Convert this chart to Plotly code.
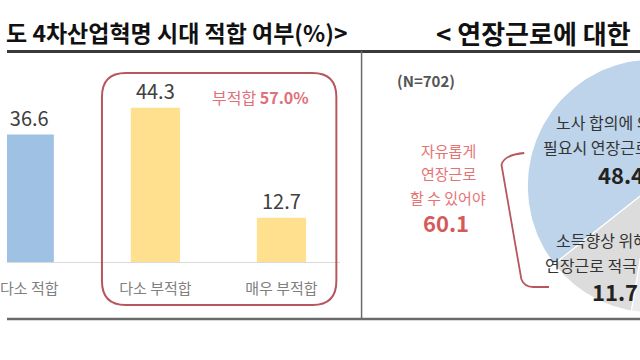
import numpy as np
import plotly.graph_objects as go

# ---------------- data ----------------
bar_categories = ["매우 적합", "다소 적합", "다소 부적합", "매우 부적합"]
bar_values = [6.4, 36.6, 44.3, 12.7]
bar_colors = ["#9fc2e4", "#9fc2e4", "#fee08f", "#fee08f"]
unfit_total_label = "부적합 <b>57.0%</b>"

pie_labels = ["노사 합의에 의해 필요시 연장근로", "소득향상 위해 연장근로 적극", "기타"]
pie_values = [48.4, 11.7, 39.9]
pie_colors = ["#bdd4ea", "#dcdcdc", "#ececec"]
free_overtime_total = 60.1
sample_size = "(N=702)"

left_title = "도 4차산업혁명 시대 적합 여부(%)>"
right_title = "< 연장근로에 대한"

FONT = "Noto Sans CJK KR"
W, H = 640, 360

fig = go.Figure()

# ---------------- bar chart (left) ----------------
fig.add_trace(go.Bar(
    x=bar_categories, y=bar_values,
    marker=dict(color=bar_colors, line=dict(width=0)),
    width=0.39,
    text=[f"{v:.1f}" for v in bar_values],
    textposition="outside",
    textfont=dict(family=FONT, size=20, color="#404040"),
    cliponaxis=False,
    xaxis="x", yaxis="y",
    hoverinfo="skip",
))

# ---------------- pie (right), drawn on pixel overlay axes ----------------
CX, CY, R = 653, 186, 127
ROT = 43.8
total = sum(pie_values)
start = ROT
for lab, val, col in zip(pie_labels, pie_values, pie_colors):
    span = val / total * 360.0
    th = np.radians(np.linspace(start, start + span, 120))
    xs = np.concatenate([[CX], CX + R * np.cos(th), [CX]])
    ys = np.concatenate([[CY], CY - R * np.sin(th), [CY]])
    fig.add_trace(go.Scatter(
        x=xs, y=ys, mode="lines", fill="toself",
        fillcolor=col, line=dict(color="white", width=1.2),
        name=lab, xaxis="x2", yaxis="y2", hoverinfo="skip",
    ))
    start += span

# ---------------- layout ----------------
ann = []
def A(text, x, y, size, color, xanchor="center", family=FONT):
    ann.append(dict(text=text, x=x, y=y, xref="x2", yref="y2", showarrow=False,
                    xanchor=xanchor, yanchor="middle",
                    font=dict(family=family, size=size, color=color)))

A("<b>" + left_title + "</b>", 346, 32, 23, "#111111", xanchor="right")
A("<b>" + right_title + "</b>", 432, 32, 26, "#111111", xanchor="left")
A(unfit_total_label, 256, 97, 16, "#e0707a")
A("<b>" + sample_size + "</b>", 424, 80, 15, "#555555")
A("자유롭게", 446, 150, 15, "#e57373")
A("연장근로", 446, 173, 15, "#e57373")
A("할 수 있어야", 446, 197, 15, "#e57373")
A(f"<b>{free_overtime_total:.1f}</b>", 444, 222, 22, "#d65a5a")
A("노사 합의에 의해", 553, 122, 16, "#333333", xanchor="left")
A("필요시 연장근로 허용", 540, 147, 16, "#333333", xanchor="left")
A(f"<b>{pie_values[0]:.1f}</b>", 596, 174, 22, "#222222", xanchor="left")
A("소득향상 위해", 553, 240, 16, "#333333", xanchor="left")
A("연장근로 적극 허용", 542, 265, 16, "#333333", xanchor="left")
A(f"<b>{pie_values[1]:.1f}</b>", 589, 291, 22, "#222222", xanchor="left")

def px(x):
    return x / W

def py(y):
    return 1 - y / H

shapes = [
    # title underline
    dict(type="line", xref="paper", yref="paper", x0=0, x1=1, y0=py(51.5), y1=py(51.5),
         line=dict(color="#3a3a3a", width=3), layer="above"),
    # vertical separator
    dict(type="line", xref="paper", yref="paper", x0=px(358.5), x1=px(358.5),
         y0=py(51), y1=py(319), line=dict(color="#6a6a6a", width=1.5)),
    # bottom rule
    dict(type="line", xref="paper", yref="paper", x0=0, x1=1, y0=py(319), y1=py(319),
         line=dict(color="#6a6a6a", width=2.5)),
    # rounded box around unfit bars
    dict(type="path", xref="x2", yref="y2",
         path="M 120 73 L 309 73 Q 333 73 333 97 L 333 281 Q 333 305 309 305 "
              "L 120 305 Q 96 305 96 281 L 96 97 Q 96 73 120 73 Z",
         line=dict(color="#b8565f", width=2)),
    # bracket
    dict(type="path", xref="x2", yref="y2",
         path="M 523 153 Q 502 155 500 165 L 520 279 Q 523 287 532 287 L 548 287",
         line=dict(color="#b8565f", width=1.8)),
]

fig.update_layout(
    width=W, height=H,
    margin=dict(l=0, r=0, t=0, b=0),
    paper_bgcolor="white", plot_bgcolor="rgba(0,0,0,0)",
    showlegend=False,
    font=dict(family=FONT),
    xaxis=dict(domain=[0, 337 / 640], range=[0.8235, 3.4667], type="category",
               showline=True, linecolor="#d9d9d9", linewidth=1,
               showgrid=False, zeroline=False, ticks="",
               ticklabelstandoff=13,
               tickfont=dict(family=FONT, size=15, color="#808080"),
               fixedrange=True),
    yaxis=dict(domain=[(360 - 262) / 360, 1 - 60 / 360], range=[0, 58],
               visible=False, fixedrange=True),
    xaxis2=dict(domain=[0, 1], range=[0, 640], visible=False, anchor="y2",
                fixedrange=True),
    yaxis2=dict(domain=[0, 1], range=[360, 0], visible=False, anchor="x2",
                fixedrange=True),
    annotations=ann,
    shapes=shapes,
)

fig.write_html("out.html", config={"displayModeBar": False},
               post_script="document.body.style.margin='0px';")
